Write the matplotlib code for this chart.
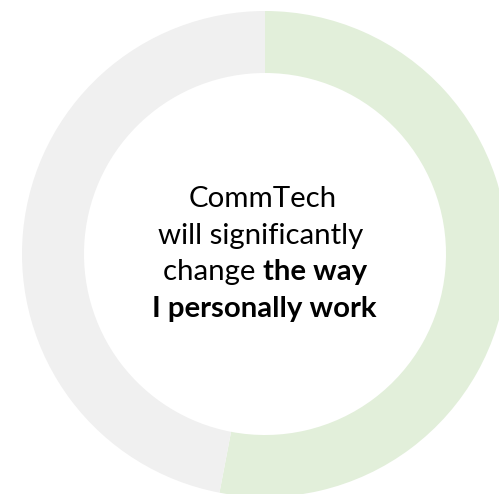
import matplotlib
matplotlib.use("Agg")
import matplotlib.pyplot as plt

# share of respondents (agree vs rest)
labels = ["Agree", "Other"]
values = [53, 47]
colors = ["#E2EFDA", "#F0F0F0"]

line1 = "CommTech"
line2 = "will significantly"
line3_normal = "change "
line3_bold = "the way"
line4_bold = "I personally work"

W, H = 499, 494
cx, cy = 265, 254  # centre in pixels from top-left
fig = plt.figure(figsize=(W / 100, H / 100), dpi=100)
ax = fig.add_axes([0, 0, 1, 1])
ax.pie(values, colors=colors, startangle=90, counterclock=False,
       radius=243, center=(0, 0), wedgeprops=dict(width=62, linewidth=0))
ax.set_xlim(-cx, W - cx)
ax.set_ylim(-(H - cy), cy)
ax.set_aspect("equal")
ax.axis("off")

plt.rcParams["font.family"] = ["Lato", "DejaVu Sans"]
fs = 21.2

def y(px):
    return cy - px

ax.text(-2, y(207), line1, ha="center", va="baseline", fontsize=fs)
ax.text(-4, y(244), line2, ha="center", va="baseline", fontsize=fs)
ax.text(-1, y(317), line4_bold, ha="center", va="baseline", fontsize=fs, fontweight="bold")

# mixed weight line: measure both parts then place side by side
fig.canvas.draw()
r = fig.canvas.get_renderer()
t1 = ax.text(0, y(280), line3_normal, ha="left", va="baseline", fontsize=fs)
t2 = ax.text(0, y(280), line3_bold, ha="left", va="baseline", fontsize=fs, fontweight="bold")
w1 = t1.get_window_extent(r).width
w2 = t2.get_window_extent(r).width
x0 = -(w1 + w2) / 2
t1.set_x(x0)
t2.set_x(x0 + w1)

fig.savefig("out.png", dpi=100)
